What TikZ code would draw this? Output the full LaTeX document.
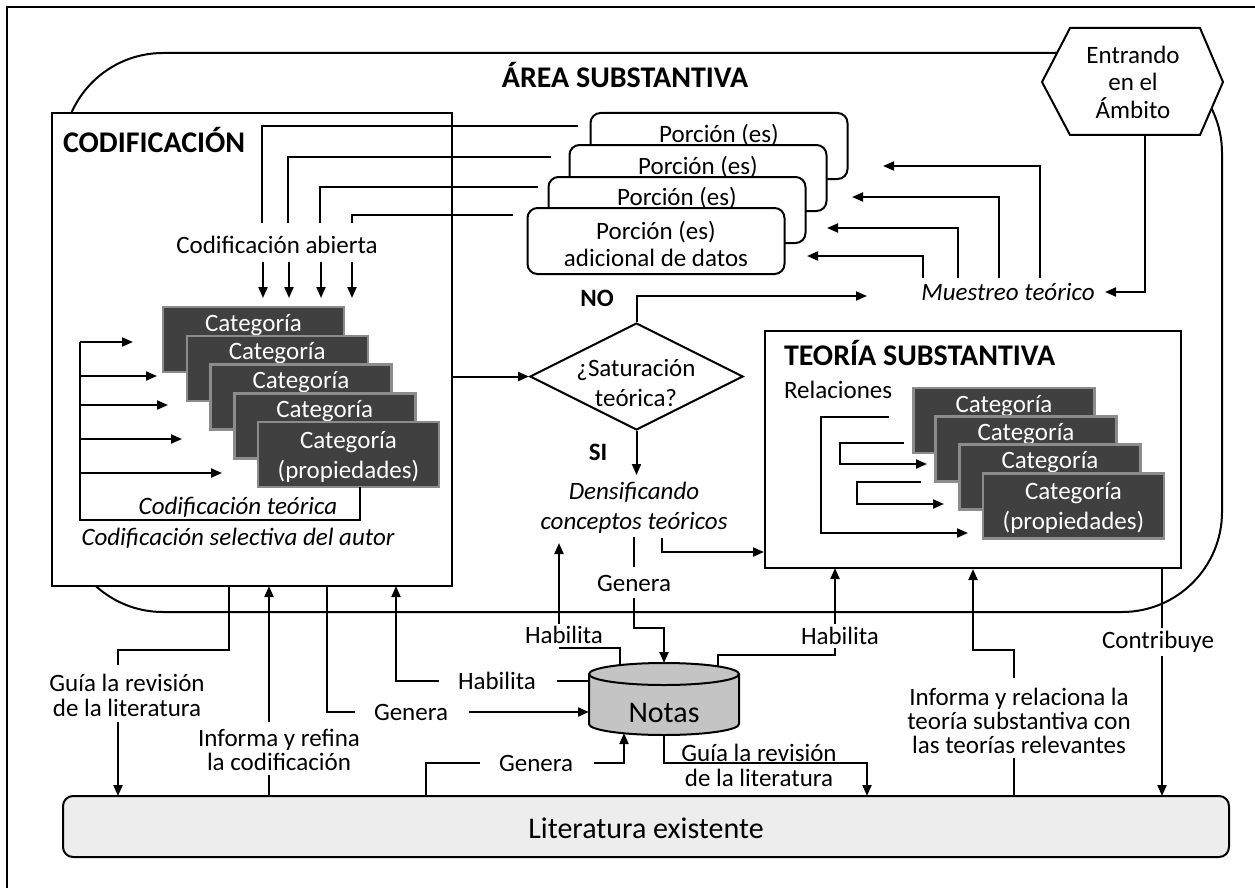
\documentclass[tikz,border=0pt]{standalone}
\usepackage{fontspec}
\setmainfont{Carlito}
\usetikzlibrary{arrows.meta,shapes.geometric,calc}

\definecolor{cardfill}{HTML}{404040}
\definecolor{cardedge}{HTML}{8C8C8C}
\definecolor{notefill}{HTML}{C4C4C4}
\definecolor{litfill}{HTML}{EDEDED}

\tikzset{
  link/.style={line width=2pt},
  arr/.style={link, -{Triangle[length=11pt,width=9pt]}},
  whitebox/.style={draw, fill=white, line width=2pt, inner sep=0pt},
  portion/.style={whitebox, rounded corners=10pt, minimum width=257pt, minimum height=66pt},
  card/.style={draw=cardedge, fill=cardfill, line width=2.5pt, minimum width=181pt, minimum height=65pt, inner sep=0pt},
  heading/.style={font=\bfseries\fontsize{30}{32}\selectfont, inner sep=0pt},
  txt/.style={font=\fontsize{25}{27}\selectfont, align=center, inner sep=0pt},
  lbl/.style={font=\fontsize{25}{23}\selectfont, align=center, inner sep=0pt},
  itl/.style={font=\itshape\fontsize{25}{30}\selectfont, align=center, inner sep=0pt},
  cardtxt/.style={font=\fontsize{25}{30}\selectfont, text=white, align=center, inner sep=0pt},
  tag/.style={font=\bfseries\fontsize{25}{27}\selectfont, inner sep=0pt},
  big/.style={font=\fontsize{30}{32}\selectfont, inner sep=0pt},
}

\begin{document}
\begin{tikzpicture}[x=1pt,y=-1pt,line width=2pt]
\useasboundingbox (0,0) rectangle (1255,888);

% outer frame
\draw (7,900) -- (7,7) -- (1265,7);

% substantive area
\draw[rounded corners=100pt] (63,53) rectangle (1222,612);
\node[heading] (area) at (625,75) {ÁREA SUBSTANTIVA};

% entering the field
\draw[fill=white] (1042,82) -- (1070,28) -- (1200,28) -- (1223,82) -- (1200,135) -- (1070,135) -- cycle;
\node[txt, font=\fontsize{25}{27.5}\selectfont] (ent) at (1133,82) {Entrando\\en el\\Ámbito};

% coding box
\node[whitebox, minimum width=400pt, minimum height=473pt] (cod) at (252,349.5) {};
\node[heading, anchor=west] (codt) at (62,140) {CODIFICACIÓN};

% stacked data portions
\node[portion] (p1) at (719,146) {};
\node[txt] (p1t) at (719,135) {Porción (es)};
\node[portion] (p2) at (698,178) {};
\node[txt] (p2t) at (698,167) {Porción (es)};
\node[portion] (p3) at (677,210) {};
\node[txt] (p3t) at (677,198) {Porción (es)};
\node[portion] (p4) at (656,241) {};
\node[txt] (p4t) at (656,243.5) {Porción (es)\\adicional de datos};

% open coding links
\coordinate (o1) at (578,126); \coordinate (k1) at (262,223);
\coordinate (o2) at (551,157); \coordinate (k2) at (288,223);
\coordinate (o3) at (538,187); \coordinate (k3) at (320,223);
\coordinate (o4) at (513,215); \coordinate (k4) at (352,223);
\draw[link] (o1) -| (k1);
\draw[link] (o2) -| (k2);
\draw[link] (o3) -| (k3);
\draw[link] (o4) -| (k4);
\node[txt] (open) at (277,245) {Codificación abierta};
\foreach \x [count=\i] in {263,289,321,352} {
  \coordinate (d\i) at (\x,262);
  \coordinate (e\i) at (\x,298);
  \draw[arr] (d\i) -- (e\i);
}

% categories in the coding box
\node[card] (lc1) at (253.5,339.5) {};
\node[cardtxt] at ($(lc1.north)+(0,19)$) {Categoría};
\node[card] (lc2) at (277.25,368.25) {};
\node[cardtxt] at ($(lc2.north)+(0,19)$) {Categoría};
\node[card] (lc3) at (301,397) {};
\node[cardtxt] at ($(lc3.north)+(0,19)$) {Categoría};
\node[card] (lc4) at (324.75,425.75) {};
\node[cardtxt] at ($(lc4.north)+(0,19)$) {Categoría};
\node[card] (lc5) at (348.5,454.5) {};
\node[cardtxt] at ($(lc5.center)+(0,2.5)$) {Categoría\\(propiedades)};

% theoretical coding
\coordinate (tcs) at (360,487);
\coordinate (tcc) at (80,520);
\coordinate (tct) at (80,342);
\draw[link] (tcs) |- (tcc) -- (tct);
\foreach \y/\x [count=\i] in {342/133, 376/157, 405/168, 439/182, 473/222} {
  \coordinate (ta\i) at (80,\y);
  \coordinate (tb\i) at (\x,\y);
  \draw[arr] (ta\i) -- (tb\i);
}
\node[itl] (tcl) at (238,507) {Codificación teórica};
\node[itl] (scl) at (238,538) {Codificación selectiva del autor};

% saturation decision
\node[draw, diamond, fill=white, minimum width=213pt, minimum height=107pt, inner sep=0pt] (sat) at (636.5,376.5) {};
\node[txt, font=\fontsize{25}{30}\selectfont] (satt) at (636,383) {¿Saturación\\teórica?};
\draw[arr] (cod.east |- sat.west) -- (sat.west);

\coordinate (noend) at (867,296);
\draw[arr] (sat.north) |- (noend);
\node[tag] (no) at (597,298) {NO};

% theoretical sampling
\node[itl] (mue) at (1008,292) {Muestreo teórico};
\foreach \x/\y/\t [count=\i] in {1040/166/883, 999/197/852, 958/228/827, 923/256/807} {
  \coordinate (ms\i) at (\x,278);
  \coordinate (mt\i) at (\t,\y);
  \draw[arr] (ms\i) |- (mt\i);
}
\coordinate (hx) at (1145,135);
\coordinate (mi) at (1105,292);
\draw[arr] (hx) |- (mi);

% saturation reached
\coordinate (sie) at (636.5,475);
\draw[arr] (sat.south) -- (sie);
\node[tag] (si) at (598,452) {SI};
\node[itl] (dens) at (634,508) {Densificando\\conceptos teóricos};

% substantive theory
\node[whitebox, minimum width=416pt, minimum height=237pt] (theo) at (973,449.5) {};
\node[heading, anchor=west] (theot) at (783,353) {TEORÍA SUBSTANTIVA};
\node[txt, anchor=west] (rel) at (783,390) {Relaciones};
\coordinate (ds) at (662,538);
\draw[arr] (ds) |- (theo.west |- 0,552);

\draw[arr] (889,417) -| (821,533) -- (968,533);
\draw[arr] (904,443) -| (840,464) -- (927,464);
\draw[arr] (921,482) -| (857,504) -- (944,504);

\node[card] (rc1) at (1004,420.5) {};
\node[cardtxt] at ($(rc1.north)+(0,19)$) {Categoría};
\node[card] (rc2) at (1026,449) {};
\node[cardtxt] at ($(rc2.north)+(0,19)$) {Categoría};
\node[card] (rc3) at (1050,477) {};
\node[cardtxt] at ($(rc3.north)+(0,19)$) {Categoría};
\node[card] (rc4) at (1073.5,506) {};
\node[cardtxt] at ($(rc4.center)+(0,2)$) {Categoría\\(propiedades)};

% memos
\fill[notefill] (589,674) -- (589,724) arc[start angle=180,end angle=360,x radius=75pt,y radius=11pt] -- (739,674) arc[start angle=0,end angle=180,x radius=75pt,y radius=11pt] -- cycle;
\draw (589,674) -- (589,724) arc[start angle=180,end angle=360,x radius=75pt,y radius=11pt] -- (739,674);
\draw (664,674) ellipse[x radius=75pt,y radius=11pt];
\node[big] (notas) at (664,713) {Notas};

% existing literature
\node[whitebox, fill=litfill, rounded corners=10pt, minimum width=1166pt, minimum height=61pt] (lit) at (646,826.5) {};
\node[big] (litt) at (646,828) {Literatura existente};

% coding box <-> literature and memos
\node[lbl, font=\fontsize{25}{25}\selectfont] (gl1) at (127,695) {Guía la revisión\\de la literatura};
\draw[link] (229,586) |- (118,650) -- (118,665);
\draw[arr] (118,722) -- (118,796);

\node[lbl, font=\fontsize{25}{24}\selectfont] (inf1) at (279,750) {Informa y refina\\la codificación};
\draw[link] (269,796) -- (269,775);
\draw[arr] (269,722) -- (269,586);

\node[lbl] (gen1) at (411,712) {Genera};
\draw[link] (327,586) |- (355,712);
\draw[arr] (469,712) -- (589,712);

\node[lbl] (hab1) at (497,681) {Habilita};
\draw[link] (589,681) -- (557,681);
\draw[arr] (439,681) -| (396,586);

\node[lbl] (hab2) at (564,635) {Habilita};
\draw[link] (620,665) |- (559,648);
\draw[arr] (559,624) -- (559,543);

\node[lbl] (gen2) at (634,583) {Genera};
\draw[link] (634,537) -- (634,567);
\draw[arr] (634,598) |- (664,628) -- (664,663);

\node[lbl] (gen3) at (536,763) {Genera};
\draw[link] (426,796) |- (480,763);
\draw[arr] (594,763) -| (624,733);

\node[lbl, font=\fontsize{25}{25}\selectfont] (gl2) at (759,765.5) {Guía la revisión\\de la literatura};
\draw[arr] (664,735) |- (867,763) -- (867,796);

\node[lbl] (hab3) at (840,636) {Habilita};
\draw[link] (718,666) |- (835,655) -- (835,648);
\draw[arr] (835,624) -- (835,568);

\node[lbl, font=\fontsize{25}{24}\selectfont] (inf2) at (1019,721) {Informa y relaciona la\\teoría substantiva con\\las teorías relevantes};
\draw[link] (1014,796) -- (1014,758);
\draw[arr] (1014,678) |- (973,650) -- (973,569);

\node[lbl] (con) at (1158,642) {Contribuye};
\draw[link] (1162,568) -- (1162,628);
\draw[arr] (1162,656) -- (1162,796);

\end{tikzpicture}
\end{document}
